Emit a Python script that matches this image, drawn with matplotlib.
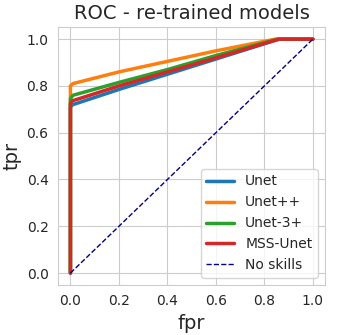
import matplotlib
matplotlib.use("Agg")
import matplotlib.pyplot as plt
import seaborn as sns

sns.set_style("whitegrid")

# ROC points (fpr, tpr)
unet_fpr = [0.0, 0.0, 0.01, 0.2, 0.4, 0.6, 0.86, 1.0]
unet_tpr = [0.0, 0.71, 0.72, 0.785, 0.85, 0.915, 1.0, 1.0]

unetpp_fpr = [0.0, 0.0, 0.01, 0.2, 0.4, 0.6, 0.845, 1.0]
unetpp_tpr = [0.0, 0.80, 0.81, 0.86, 0.905, 0.95, 1.0, 1.0]

unet3p_fpr = [0.0, 0.0, 0.01, 0.2, 0.4, 0.6, 0.855, 1.0]
unet3p_tpr = [0.0, 0.745, 0.76, 0.815, 0.87, 0.93, 1.0, 1.0]

mss_fpr = [0.0, 0.0, 0.01, 0.2, 0.4, 0.6, 0.86, 1.0]
mss_tpr = [0.0, 0.725, 0.737, 0.80, 0.86, 0.92, 1.0, 1.0]

chance = [0.0, 1.0]

fig = plt.figure(figsize=(3.38, 3.35), dpi=100)
ax = fig.add_axes([0.1725, 0.150, 0.789, 0.768])

ax.plot(unet_fpr, unet_tpr, color="#1f77b4", lw=2.5, label="Unet")
ax.plot(unetpp_fpr, unetpp_tpr, color="#ff7f0e", lw=2.5, label="Unet++")
ax.plot(unet3p_fpr, unet3p_tpr, color="#2ca02c", lw=2.5, label="Unet-3+")
ax.plot(mss_fpr, mss_tpr, color="#d62728", lw=2.5, label="MSS-Unet")
ax.plot(chance, chance, color="navy", lw=1, ls="--", label="No skills")

ax.set_title("ROC - re-trained models", fontsize=14, color="#262626")
ax.set_xlabel("fpr", fontsize=14, color="#262626")
ax.set_ylabel("tpr", fontsize=14, color="#262626")
ax.tick_params(labelsize=10, colors="#262626")
ax.legend(loc="lower right", fontsize=10)

fig.savefig("out.png", dpi=100)
